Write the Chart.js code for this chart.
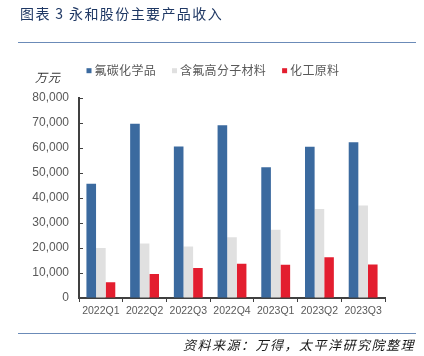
<!DOCTYPE html>
<html>
<head>
<meta charset="utf-8">
<script src="https://cdn.jsdelivr.net/npm/chart.js@4/dist/chart.umd.min.js"></script>
<style>
  html, body { margin: 0; padding: 0; background: #ffffff; }
  #wrap { position: relative; width: 424px; height: 356px; overflow: hidden; background: #fff; }
  #c { position: absolute; left: 0; top: 0; }
  .title { position: absolute; left: 20px; top: 5px; font: 14px/16px "Noto Sans CJK SC", sans-serif; letter-spacing: 1.4px; color: #1f3864; white-space: nowrap; }
  .rule { position: absolute; left: 18px; width: 398px; height: 1px; background: #6b8bb8; }
  .source { position: absolute; right: 9px; top: 337px; font: italic 13px/16px "Noto Sans CJK SC", sans-serif; letter-spacing: 1.5px; color: #1a1a1a; white-space: nowrap; }
</style>
</head>
<body>
<div id="wrap">
  <canvas id="c" width="424" height="356"></canvas>
  <div class="title">图表 3 永和股份主要产品收入</div>
  <div class="rule" style="top:42px"></div>
  <div class="rule" style="top:333px"></div>
  <div class="source">资料来源：万得，太平洋研究院整理</div>
</div>
<script>
// ---- DATA ----
const categories = ['2022Q1', '2022Q2', '2022Q3', '2022Q4', '2023Q1', '2023Q2', '2023Q3'];
const seriesNames = ['氟碳化学品', '含氟高分子材料', '化工原料'];
const fluoroChemicals = [45700, 69700, 60600, 69100, 52300, 60500, 62300];
const fluoroPolymers = [20000, 21800, 20600, 24300, 27300, 35600, 37000];
const chemRawMaterials = [6300, 9600, 12000, 13700, 13300, 16300, 13400];
const yTickValues = [0, 10000, 20000, 30000, 40000, 50000, 60000, 70000, 80000];
const yTickLabels = ['0', '10,000', '20,000', '30,000', '40,000', '50,000', '60,000', '70,000', '80,000'];
const unitLabel = '万元';

const colors = ['#3b6a9f', '#e0e0e0', '#e31e2f'];
const axisColor = '#404040';
const tickTextColor = '#595959';

const innerTicks = {
  id: 'innerTicks',
  afterDraw(chart) {
    const ctx = chart.ctx;
    const y = chart.scales.y;
    const left = chart.chartArea.left;
    ctx.save();
    ctx.strokeStyle = axisColor;
    ctx.lineWidth = 1;
    y.ticks.forEach(t => {
      const py = Math.round(y.getPixelForValue(t.value)) + 0.5;
      ctx.beginPath();
      ctx.moveTo(left, py);
      ctx.lineTo(left + 4, py);
      ctx.stroke();
    });
    ctx.restore();
  }
};

const customLegend = {
  id: 'customLegend',
  afterDraw(chart) {
    const ctx = chart.ctx;
    ctx.save();
    ctx.font = 'italic 12px "Noto Sans CJK SC", sans-serif';
    ctx.fillStyle = '#333333';
    ctx.textBaseline = 'middle';
    ctx.textAlign = 'left';
    ctx.letterSpacing = '1px';
    ctx.fillText(unitLabel, 35, 77);
    ctx.font = '12px "Noto Sans CJK SC", sans-serif';
    ctx.letterSpacing = '0.3px';
    let x = 86.5;
    const cy = 70.7;
    chart.data.datasets.forEach(ds => {
      ctx.fillStyle = ds.backgroundColor;
      ctx.fillRect(x, cy - 2.5, 5, 5);
      ctx.fillStyle = tickTextColor;
      ctx.fillText(ds.label, x + 8, cy);
      x += 8 + ctx.measureText(ds.label).width + 16;
    });
    ctx.restore();
  }
};

new Chart(document.getElementById('c'), {
  type: 'bar',
  data: {
    labels: categories,
    datasets: [
      { label: seriesNames[0], data: fluoroChemicals, backgroundColor: colors[0] },
      { label: seriesNames[1], data: fluoroPolymers, backgroundColor: colors[1] },
      { label: seriesNames[2], data: chemRawMaterials, backgroundColor: colors[2] }
    ]
  },
  options: {
    responsive: false,
    animation: false,
    devicePixelRatio: 1,
    layout: { padding: { top: 98, right: 39, left: 0, bottom: 0 } },
    datasets: { bar: { categoryPercentage: 0.66, barPercentage: 1.0 } },
    plugins: { legend: { display: false }, tooltip: { enabled: false }, title: { display: false } },
    scales: {
      x: {
        offset: true,
        grid: { display: true, offset: true, drawOnChartArea: false, drawTicks: true, tickLength: 4, color: axisColor, lineWidth: 1 },
        border: { display: true, color: axisColor, width: 2 },
        ticks: { color: tickTextColor, padding: 3, maxRotation: 0, autoSkip: false,
                 font: { family: "'Liberation Sans', Arial, sans-serif", size: 10.5 } },
        afterFit(scale) { scale.height = 58; }
      },
      y: {
        min: 0, max: 80000,
        grid: { display: true, drawOnChartArea: false, drawTicks: false },
        border: { display: true, color: axisColor, width: 2 },
        afterBuildTicks(scale) { scale.ticks = yTickValues.map(v => ({ value: v })); },
        ticks: {
          color: tickTextColor, padding: 10,
          font: { family: "'Liberation Sans', Arial, sans-serif", size: 12 },
          callback(value) { const i = yTickValues.indexOf(value); return i >= 0 ? yTickLabels[i] : ''; }
        },
        afterFit(scale) { scale.width = 79; }
      }
    }
  },
  plugins: [innerTicks, customLegend]
});
</script>
</body>
</html>
